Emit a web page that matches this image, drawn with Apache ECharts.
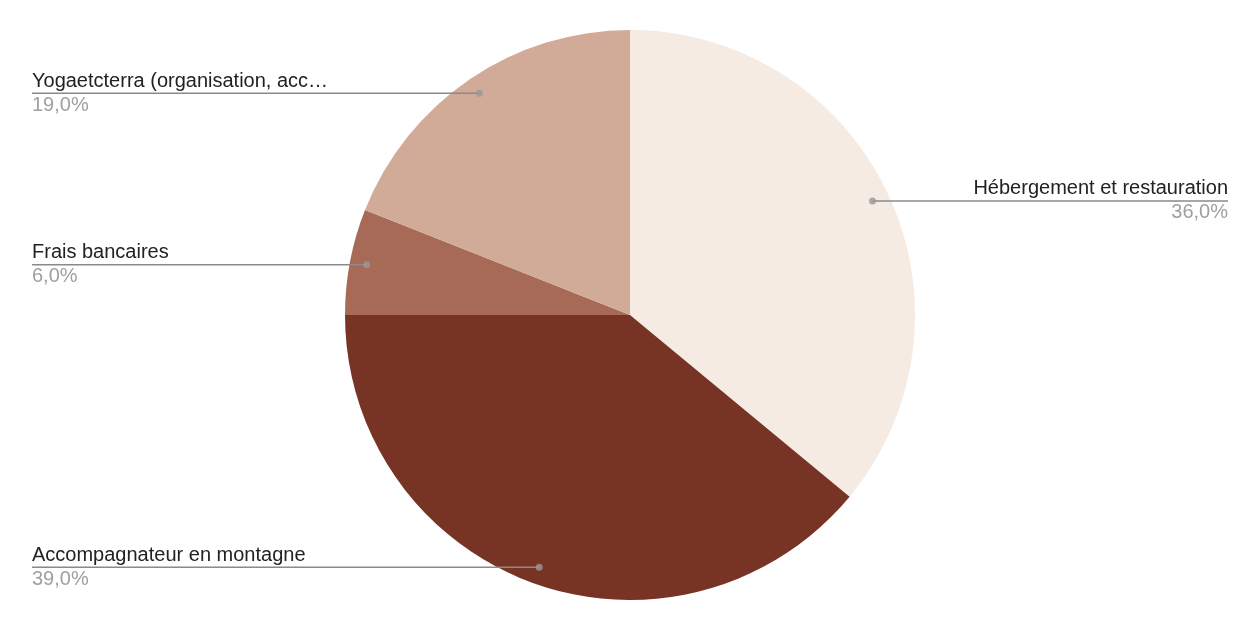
<!DOCTYPE html>
<html>
<head>
<meta charset="utf-8">
<script src="https://cdn.jsdelivr.net/npm/echarts@6/dist/echarts.min.js"></script>
<style>html,body{margin:0;padding:0;background:#fff;}#c{width:1250px;height:626px;}</style>
</head>
<body>
<div id="c"></div>
<script>
const categories = ['Hébergement et restauration', 'Accompagnateur en montagne', 'Frais bancaires', 'Yogaetcterra (organisation, accompagnement)'];
const displayNames = ['Hébergement et restauration', 'Accompagnateur en montagne', 'Frais bancaires', 'Yogaetcterra (organisation, acc…'];
const values = [36, 39, 6, 19];
const colors = ['#F5EBE2', '#773323', '#A66A56', '#D2AA98'];

const CX = 630, CY = 315, R = 285, R_DOT = 268;
const LEFT_X = 32, RIGHT_X = 1228;
const total = values.reduce((a, b) => a + b, 0);
const pct = v => (v / total * 100).toFixed(1).replace('.', ',') + '%';

const pieData = categories.map((c, i) => ({ name: c, value: values[i], itemStyle: { color: colors[i] } }));
const labelData = categories.map((c, i) => ({ name: c, value: values[i], display: displayNames[i] }));

let cum = 0;
const dotData = values.map(v => { const mid = (cum + v / 2) / total * 100; cum += v; return [R_DOT / R, mid]; });

const FONT = 'Liberation Sans, Arial, Helvetica, sans-serif';
const chart = echarts.init(document.getElementById('c'), null, { renderer: 'canvas' });
chart.setOption({
  backgroundColor: '#ffffff',
  animation: false,
  polar: { center: [CX, CY], radius: R },
  angleAxis: { type: 'value', min: 0, max: 100, startAngle: 90, clockwise: true, show: false },
  radiusAxis: { type: 'value', min: 0, max: 1, show: false },
  series: [
    {
      type: 'pie',
      center: [CX, CY],
      radius: R,
      startAngle: 90,
      clockwise: true,
      label: { show: false },
      labelLine: { show: false },
      itemStyle: { borderWidth: 0 },
      emphasis: { disabled: true },
      data: pieData,
      z: 1
    },
    {
      type: 'pie',
      center: [CX, CY],
      radius: R_DOT,
      startAngle: 90,
      clockwise: true,
      silent: true,
      itemStyle: { color: 'rgba(0,0,0,0)', borderWidth: 0 },
      emphasis: { disabled: true },
      label: {
        show: true,
        position: 'outside',
        formatter: p => '{n|' + labelData[p.dataIndex].display + '}\n{p|' + pct(p.value) + '}',
        rich: {
          n: { fontFamily: FONT, fontSize: 20, color: '#222222', lineHeight: 24 },
          p: { fontFamily: FONT, fontSize: 20, color: '#a0a0a0', lineHeight: 24 }
        }
      },
      labelLine: { show: true, length: 0, length2: 20, lineStyle: { color: '#8a8a8a', width: 1.5 } },
      labelLayout: function (params) {
        const p0 = params.labelLinePoints[0];
        const left = p0[0] < CX;
        const ex = left ? LEFT_X : RIGHT_X;
        return {
          x: ex,
          y: p0[1],
          align: left ? 'left' : 'right',
          verticalAlign: 'middle',
          labelLinePoints: [[p0[0], p0[1]], [p0[0], p0[1]], [ex, p0[1]]]
        };
      },
      data: labelData,
      z: 2
    },
    {
      type: 'scatter',
      coordinateSystem: 'polar',
      symbol: 'circle',
      symbolSize: 7,
      silent: true,
      itemStyle: { color: '#999999' },
      data: dotData,
      z: 5
    }
  ]
});
</script>
</body>
</html>
